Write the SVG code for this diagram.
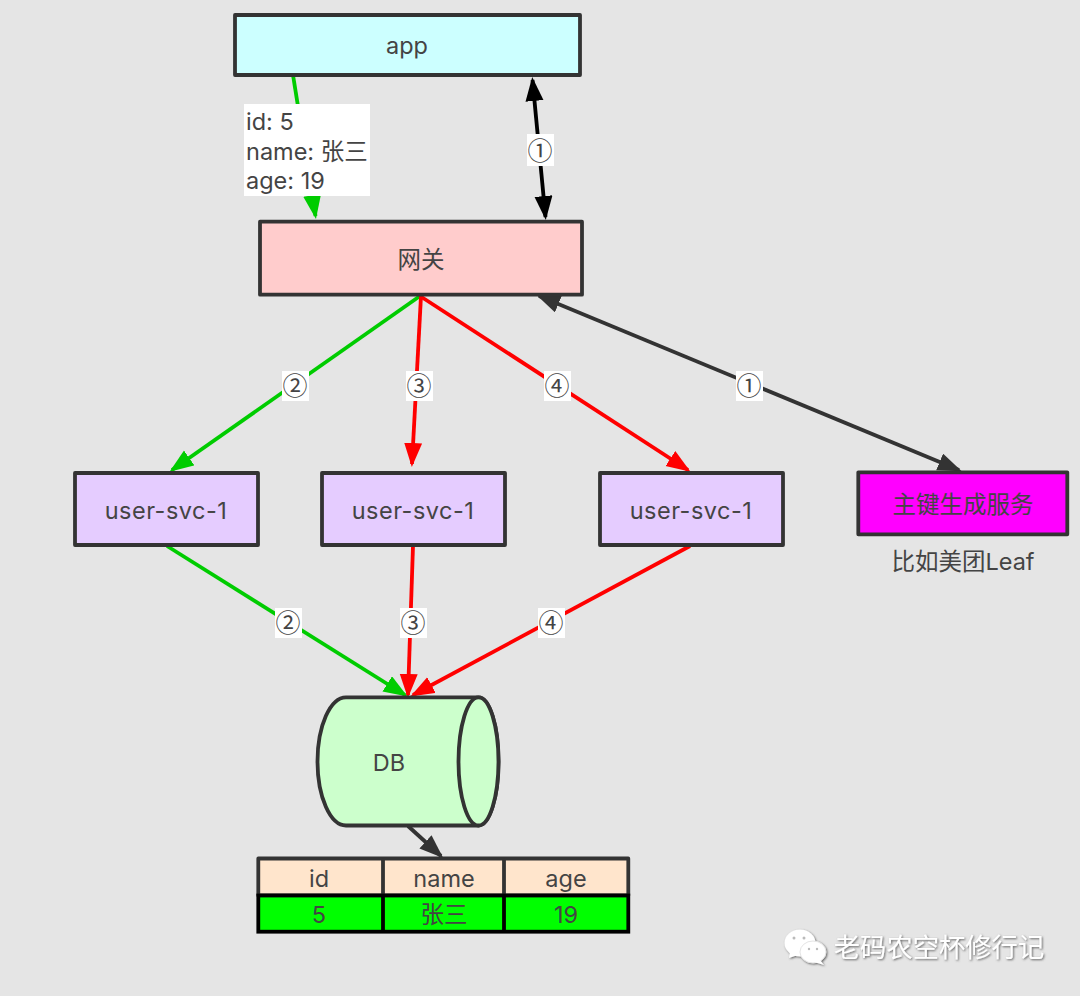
<svg xmlns="http://www.w3.org/2000/svg" width="1080" height="996" viewBox="0 0 1080 996">
<style>
text{font-family:Inter,"Noto Sans CJK SC",sans-serif;font-size:23.500px;fill:#444;text-anchor:middle}
.n{stroke:#333;stroke-width:3.800;stroke-linejoin:round}
.c{fill:none;stroke-width:3.800}
.lb{fill:#fff}
.g{stroke:#00cc00;marker-end:url(#ag)}
.r{stroke:#ff0000;marker-end:url(#ar)}
.k{stroke:#000;marker-start:url(#ak);marker-end:url(#ak)}
.d{stroke:#333;marker-start:url(#ad);marker-end:url(#ad)}
.d1{stroke:#333;marker-end:url(#ad)}
.l{text-anchor:start}
.o{font-family:"Noto Sans CJK SC",sans-serif;font-size:25px}
.s{letter-spacing:0.500px}
</style>
<defs>
<marker id="ag" markerUnits="userSpaceOnUse" markerWidth="28" markerHeight="20" refX="21" refY="9" orient="auto-start-reverse"><path d="M0 0L24 9L0 18Z" fill="#00cc00"/></marker>
<marker id="ar" markerUnits="userSpaceOnUse" markerWidth="28" markerHeight="20" refX="21" refY="9" orient="auto-start-reverse"><path d="M0 0L24 9L0 18Z" fill="#ff0000"/></marker>
<marker id="ak" markerUnits="userSpaceOnUse" markerWidth="28" markerHeight="20" refX="21" refY="9" orient="auto-start-reverse"><path d="M0 0L24 9L0 18Z" fill="#000"/></marker>
<marker id="ad" markerUnits="userSpaceOnUse" markerWidth="28" markerHeight="20" refX="21" refY="9" orient="auto-start-reverse"><path d="M0 0L24 9L0 18Z" fill="#333"/></marker>
<filter id="sh" x="-5%" y="-10%" width="110%" height="125%"><feDropShadow dx="1" dy="1" stdDeviation="0.800" flood-color="#555" flood-opacity="0.900"/></filter>
</defs>
<rect width="1080" height="996" fill="#e5e5e5"/>
<g id="connectors">
<path class="c g" d="M293 75L315.500 216"/>
<path class="c k" d="M532.500 80L545.500 217"/>
<path class="c g" d="M420 296L172 470"/>
<path class="c r" d="M421 296L412 464"/>
<path class="c r" d="M420 296L688 470"/>
<path class="c d" d="M539 296L959 470"/>
<path class="c g" d="M167 546L405 695"/>
<path class="c r" d="M413 546L408 695"/>
<path class="c r" d="M690 546L413 695"/>
<path class="c d1" d="M408 826L441 856"/>
<rect class="lb" x="244" y="104" width="126" height="92"/>
<text class="l" x="246" y="130">id: 5</text>
<text class="l" x="246" y="160">name: 张三</text>
<text class="l" x="246" y="189">age: 19</text>
<rect class="lb" x="527" y="134" width="27" height="32"/><text class="o" x="540" y="160">①</text>
<rect class="lb" x="282" y="371" width="27" height="30"/><text class="o" x="295" y="395">②</text>
<rect class="lb" x="406" y="371" width="27" height="30"/><text class="o" x="419" y="395">③</text>
<rect class="lb" x="544" y="371" width="27" height="30"/><text class="o" x="557" y="395">④</text>
<rect class="lb" x="736" y="371" width="27" height="30"/><text class="o" x="749" y="395">①</text>
<rect class="lb" x="275" y="608" width="27" height="30"/><text class="o" x="288" y="632">②</text>
<rect class="lb" x="400" y="608" width="27" height="30"/><text class="o" x="413" y="632">③</text>
<rect class="lb" x="538" y="608" width="27" height="30"/><text class="o" x="551" y="632">④</text>
</g>
<g id="app"><rect class="n" x="235" y="15" width="345" height="60" fill="#ccffff"/><text x="407" y="54">app</text></g>
<g id="gateway"><rect class="n" x="260" y="221.700" width="322" height="73" fill="#ffcccc"/><text x="421" y="268">网关</text></g>
<g id="svc1"><rect class="n" x="75" y="473" width="183" height="72" fill="#e5ccff"/><text class="s" x="166" y="519">user-svc-1</text></g>
<g id="svc2"><rect class="n" x="322" y="473" width="183" height="72" fill="#e5ccff"/><text class="s" x="413" y="519">user-svc-1</text></g>
<g id="svc3"><rect class="n" x="600" y="473" width="183" height="72" fill="#e5ccff"/><text class="s" x="691" y="519">user-svc-1</text></g>
<g id="idsvc"><rect class="n" x="858.300" y="472.300" width="209" height="62" fill="#ff00ff"/><text x="963" y="513">主键生成服务</text><text x="963" y="570">比如美团Leaf</text></g>
<g id="db"><path class="n" d="M346 697.300H478.500A20 64 0 0 1 478.500 825.500H346A28.500 64.100 0 0 1 346 697.300Z" fill="#ccffcc"/><ellipse class="n" cx="478.500" cy="761.400" rx="20" ry="64.100" fill="#ccffcc"/><text x="389" y="771">DB</text></g>
<g id="table">
<rect class="n" x="258.300" y="858.500" width="370" height="37" fill="#ffe5cc"/>
<path class="n" d="M383 858.500V895.500M504 858.500V895.500"/>
<rect x="258.300" y="895.500" width="370" height="36.200" fill="#00ff00" stroke="#000" stroke-width="3.800"/>
<path d="M383 895.500V931.700M504 895.500V931.700" stroke="#000" stroke-width="3.800"/>
<text x="319" y="887">id</text><text x="444" y="887">name</text><text x="566" y="887">age</text>
<text x="319" y="923">5</text><text x="444" y="923">张三</text><text x="566" y="923">19</text>
</g>
<g id="watermark" filter="url(#sh)" fill="#fff">
<ellipse cx="800" cy="943" rx="15.500" ry="13.500"/><path d="M790 952L789 958L798 955Z"/>
<ellipse cx="813" cy="952" rx="13" ry="11" stroke="#e5e5e5"/><path d="M820 960L824 965L814 962Z"/>
<circle cx="794" cy="938" r="1.500" fill="#bbb"/><circle cx="804" cy="938" r="1.500" fill="#bbb"/><circle cx="809" cy="949" r="1.200" fill="#bbb"/><circle cx="817" cy="949" r="1.200" fill="#bbb"/>
<text x="939" y="957" style="fill:#fff;font-size:26.300px">老码农空杯修行记</text>
</g>
</svg>
